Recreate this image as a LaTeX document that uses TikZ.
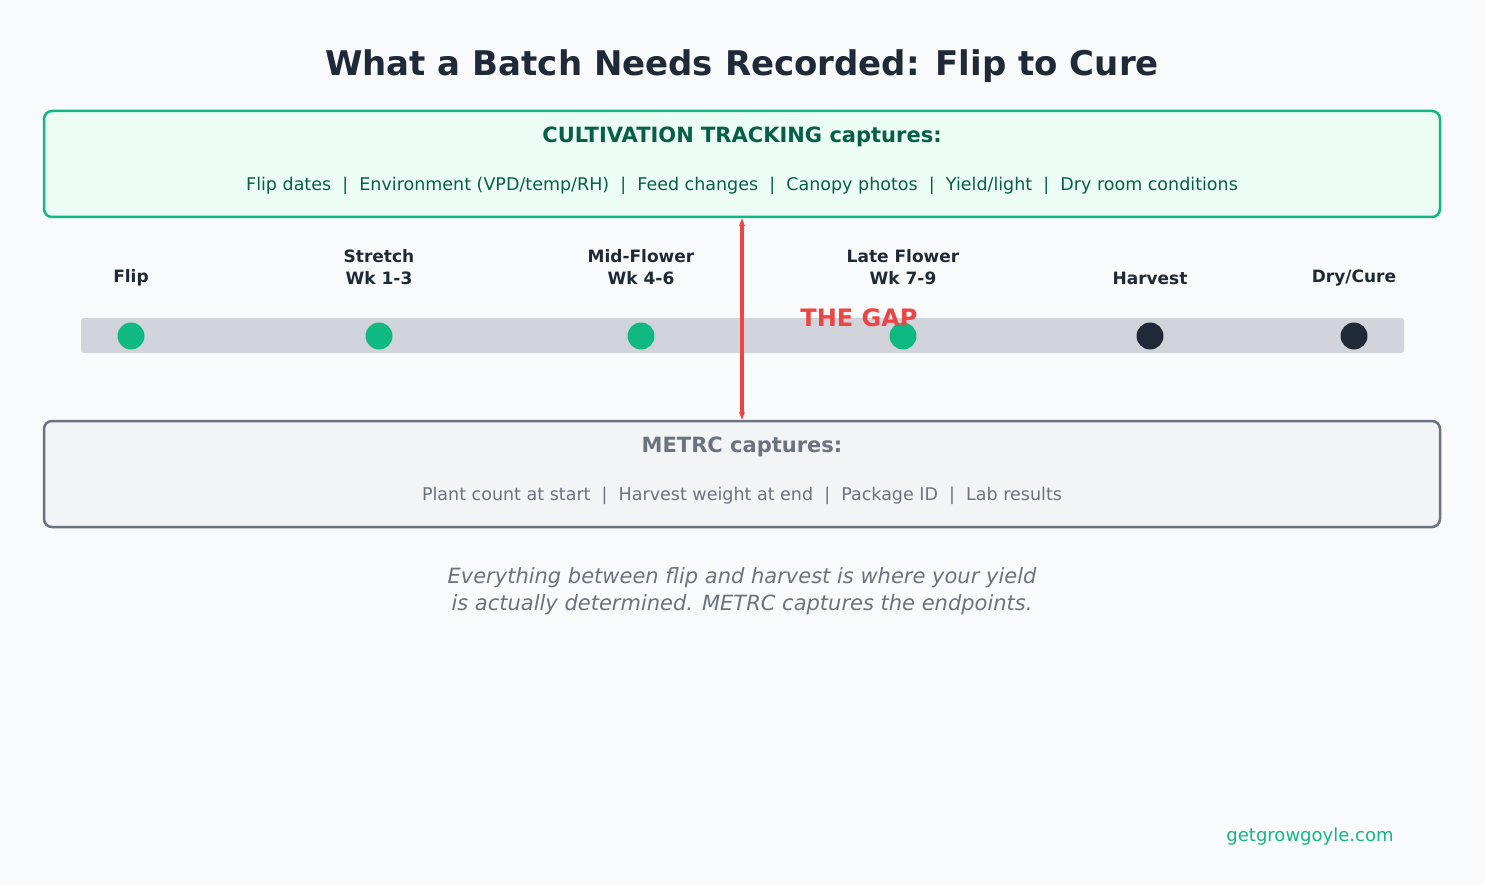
\documentclass[tikz,border=0pt]{standalone}
\usepackage{fontspec}
\setmainfont{DejaVu Sans}
\usetikzlibrary{positioning,arrows.meta}
\definecolor{ink}{HTML}{1F2937}
\definecolor{grn}{HTML}{10B981}
\definecolor{dgrn}{HTML}{065F46}
\definecolor{gry}{HTML}{6B7280}
\definecolor{gapred}{HTML}{EF4444}
\tikzset{
  panel/.style={rectangle, rounded corners=8pt, line width=2.5pt, minimum width=1396pt, minimum height=106pt},
  stage/.style={font=\bfseries\fontsize{17}{22}\selectfont, text=ink, align=center},
  dot/.style={circle, inner sep=0pt, minimum size=27pt},
}
\begin{document}
\begin{tikzpicture}[x=1pt,y=-1pt]
      \useasboundingbox[fill={rgb,255:red,249;green,250;blue,251}] (0,0) rectangle (1485,885);
      \node[font=\bfseries\fontsize{34}{40}\selectfont, text=ink] (title) at (742,66) {What a Batch Needs Recorded: Flip to Cure};
      %
      \node[panel, draw=grn, fill={rgb,255:red,236;green,253;blue,245}] (cult) at (742,164) {};
      \node[font=\bfseries\fontsize{21}{25}\selectfont, text=dgrn] (culthead) at (742,137) {CULTIVATION TRACKING captures:};
      \node[font=\fontsize{17.5}{21}\selectfont, text=dgrn] (cultitems) at (742,186) {Flip dates~~|~~Environment (VPD/temp/RH)~~|~~Feed changes~~|~~Canopy photos~~|~~Yield/light~~|~~Dry room conditions};
      %
      \fill[rounded corners=3pt, fill={rgb,255:red,209;green,213;blue,219}] (81,318) rectangle (1404,353);
      \foreach \x/\name/\col in {131/flip/grn, 379/stretch/grn, 641/mid/grn, 903/late/grn, 1150/harv/ink, 1354/dry/ink}
        \node[dot, fill=\col] (\name) at (\x,336) {};
      \node[stage] (flipl) at (131,278) {Flip};
      \node[stage] (stretchl) at (379,267) {Stretch\\Wk 1-3};
      \node[stage] (midl) at (641,267) {Mid-Flower\\Wk 4-6};
      \node[stage] (latel) at (903,267) {Late Flower\\Wk 7-9};
      \node[stage] (harvl) at (1150,278) {Harvest};
      \node[stage] (dryl) at (1354,278) {Dry/Cure};
      %
      \node[panel, draw=gry, fill={rgb,255:red,243;green,244;blue,246}] (metrc) at (742,474) {};
      \node[font=\bfseries\fontsize{21}{25}\selectfont, text=gry] (metrchead) at (742,447) {METRC captures:};
      \node[font=\fontsize{17.5}{21}\selectfont, text=gry] (metrcitems) at (742,496) {Plant count at start~~|~~Harvest weight at end~~|~~Package ID~~|~~Lab results};
      %
      \draw[gapred, line width=3.5pt, {Stealth[length=8pt]}-{Stealth[length=8pt]}] (metrc.north) -- (cult.south);
      \node[font=\bfseries\fontsize{24}{28}\selectfont, text=gapred] (gap) at (859,318) {THE GAP};
      %
      \node[font=\itshape\fontsize{21}{27}\selectfont, text=gry, align=center] (note) at (742,591) {Everything between flip and harvest is where your yield\\is actually determined. METRC captures the endpoints.};
      \node[font=\fontsize{18}{22}\selectfont, text=grn] (site) at (1310,837) {getgrowgoyle.com};
\end{tikzpicture}
\end{document}
